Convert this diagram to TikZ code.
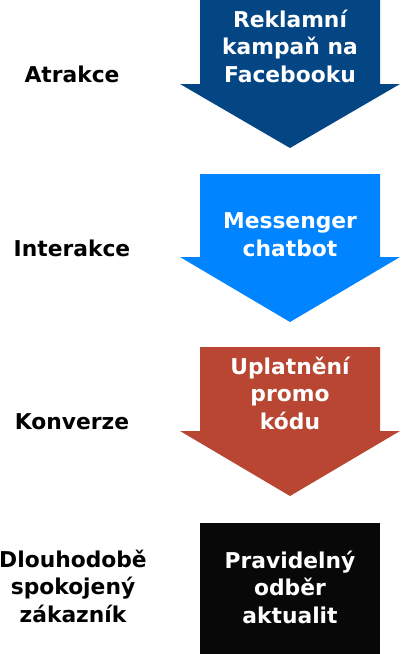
\documentclass[tikz,border=0pt]{standalone}
\usepackage{fontspec}
\setmainfont{DejaVu Sans}
\definecolor{AdBlue}{HTML}{044583}
\definecolor{ChatBlue}{HTML}{0084FF}
\definecolor{PromoRed}{HTML}{B84632}
\definecolor{NewsBlack}{HTML}{080808}
\tikzstyle{StepText}=[text=white, font=\bfseries\fontsize{21.8}{27.5}\selectfont, align=center, anchor=base, inner sep=0pt]
\tikzstyle{PhaseText}=[StepText, text=black]

\begin{document}
\begin{tikzpicture}[x=1pt,y=-1pt]
\useasboundingbox (0,0) rectangle (400,654);

\fill[AdBlue] (200,0) -- (380,0) -- (380,84) -- (400,84) -- (290,148) -- (180,84) -- (200,84) -- cycle;
\fill[ChatBlue] (200,174) -- (380,174) -- (380,257) -- (400,257) -- (290,322) -- (180,257) -- (200,257) -- cycle;
\fill[PromoRed] (200,347) -- (380,347) -- (380,431) -- (400,431) -- (290,496) -- (180,431) -- (200,431) -- cycle;
\fill[NewsBlack] (200,523) rectangle (380,654);

\node[StepText](Ad) at (290,82) {Reklamní\\kampaň na\\Facebooku};
\node[StepText](Bot) at (290,256) {Messenger\\chatbot};
\node[StepText](Promo) at (290,429) {Uplatnění\\promo\\kódu};
\node[StepText](News) at (290,623) {Pravidelný\\odběr\\aktualit};

\node[PhaseText](Attract) at (72,82) {Atrakce};
\node[PhaseText](Interact) at (72,256) {Interakce};
\node[PhaseText](Convert) at (72,429) {Konverze};
\node[PhaseText](Loyal) at (73,622) {Dlouhodobě\\spokojený\\zákazník};
\end{tikzpicture}
\end{document}
